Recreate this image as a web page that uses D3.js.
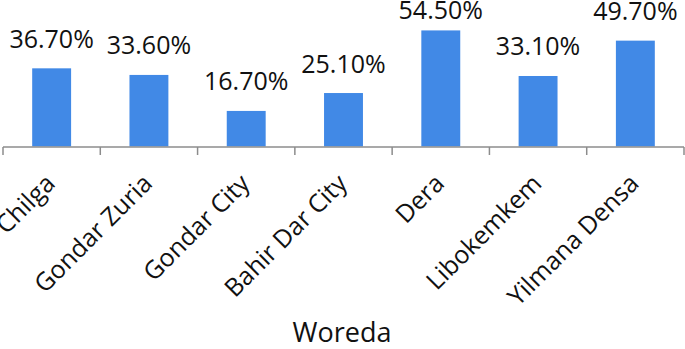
<!DOCTYPE html>
<html>
<head>
<meta charset="utf-8">
<script src="https://cdn.jsdelivr.net/npm/d3@7"></script>
<style>
  body { margin: 0; background: #fff; }
  text { font-family: "Open Sans", sans-serif; fill: #111; }
</style>
</head>
<body>
<svg id="chart" width="685" height="349"></svg>
<script>
// Woreda categories and their percentages
const woredas = ["Chilga", "Gondar Zuria", "Gondar City", "Bahir Dar City", "Dera", "Libokemkem", "Yilmana Densa"];
const percents = [36.7, 33.6, 16.7, 25.1, 54.5, 33.1, 49.7];
const axisTitle = "Woreda";

const width = 685, height = 349;
const svg = d3.select("#chart");

const x = d3.scaleBand().domain(woredas).range([3, 684]).padding(0);
const y = d3.scaleLinear().domain([0, 60]).range([146.5, 18.7]);
const bw = x.bandwidth();
const axisY = 147;

// bars
svg.selectAll("rect.bar")
  .data(woredas)
  .join("rect")
  .attr("class", "bar")
  .attr("x", d => x(d) + bw * 0.3)
  .attr("width", bw * 0.4)
  .attr("y", (d, i) => y(percents[i]))
  .attr("height", (d, i) => y(0) - y(percents[i]))
  .attr("fill", "#4189e6");

// value labels, kept inside the top edge like the original
svg.selectAll("text.val")
  .data(woredas)
  .join("text")
  .attr("class", "val")
  .attr("x", d => x(d) + bw / 2)
  .attr("y", (d, i) => Math.max(y(percents[i]) - 20.5, 18.5))
  .attr("text-anchor", "middle")
  .style("font-size", "25px")
  .text((d, i) => percents[i].toFixed(2) + "%");

// category axis: line with ticks at band edges
const edges = woredas.map(d => x(d)).concat([x.range()[1]]);
svg.append("line")
  .attr("x1", x.range()[0]).attr("x2", x.range()[1])
  .attr("y1", axisY).attr("y2", axisY)
  .attr("stroke", "#8c8c8c").attr("stroke-width", 1.5);
svg.selectAll("line.tick")
  .data(edges)
  .join("line")
  .attr("class", "tick")
  .attr("x1", d => d).attr("x2", d => d)
  .attr("y1", axisY).attr("y2", axisY + 8)
  .attr("stroke", "#8c8c8c").attr("stroke-width", 1.5);

// rotated category labels
svg.selectAll("text.cat")
  .data(woredas)
  .join("text")
  .attr("class", "cat")
  .attr("text-anchor", "end")
  .attr("transform", d => `translate(${x(d) + bw / 2 + 5},185) rotate(-45)`)
  .style("font-size", "25px")
  .text(d => d);

svg.append("text")
  .attr("x", 342)
  .attr("y", 342)
  .attr("text-anchor", "middle")
  .style("font-size", "27px")
  .text(axisTitle);
</script>
</body>
</html>
